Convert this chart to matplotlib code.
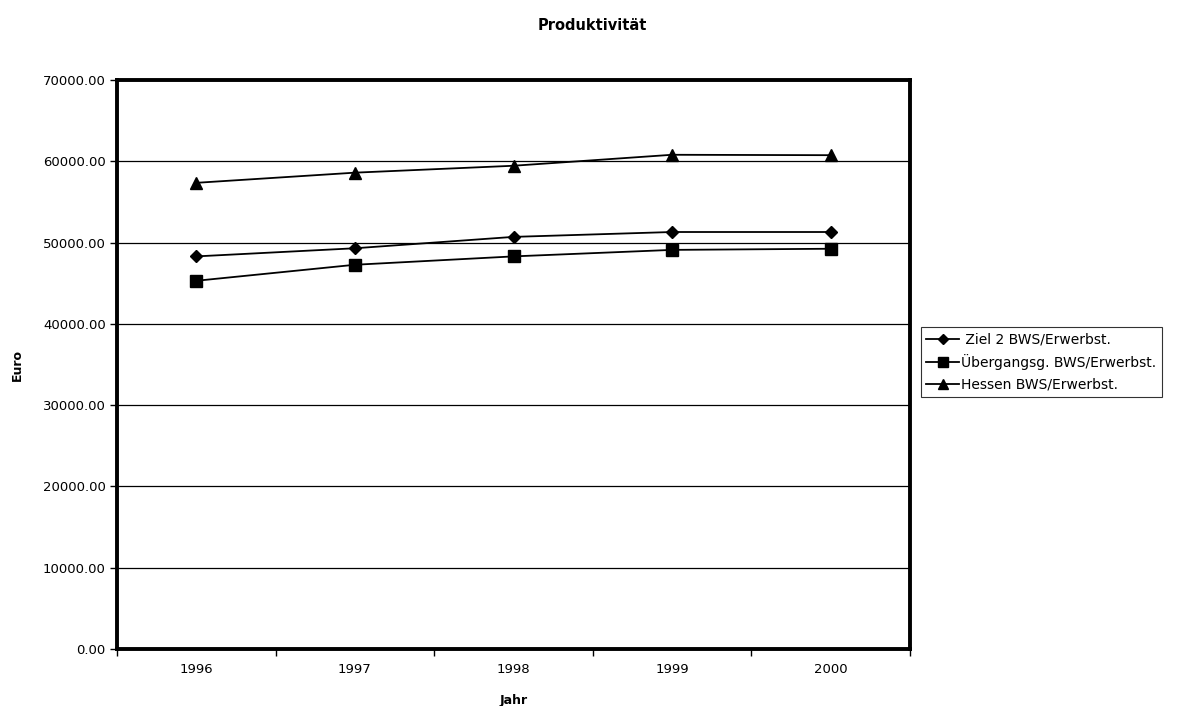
import matplotlib
matplotlib.use("Agg")
import matplotlib.pyplot as plt
from matplotlib.ticker import FuncFormatter

plt.rcParams['font.family'] = ['DejaVu Sans']

jahre = ['1996', '1997', '1998', '1999', '2000']
ziel2 = [48300, 49300, 50700, 51300, 51300]
uebergang = [45300, 47270, 48300, 49100, 49240]
hessen = [57350, 58600, 59450, 60800, 60750]

fig = plt.figure(figsize=(11.84, 7.06), dpi=100)
ax = fig.add_axes([0.0988, 0.0807, 0.6698, 0.806])

x = list(range(len(jahre)))
ax.plot(x, ziel2, color='black', lw=1.3, marker='D', ms=6.5, label=' Ziel 2 BWS/Erwerbst.')
ax.plot(x, uebergang, color='black', lw=1.3, marker='s', ms=9, label='Übergangsg. BWS/Erwerbst.')
ax.plot(x, hessen, color='black', lw=1.3, marker='^', ms=8.5, label='Hessen BWS/Erwerbst.')

ax.set_xlim(-0.5, 4.5)
ax.set_ylim(0, 70000)
ax.set_yticks(range(0, 70001, 10000))
ax.yaxis.set_major_formatter(FuncFormatter(lambda v, p: f'{v:.2f}'))
ax.grid(axis='y', color='black', lw=0.9)
ax.set_axisbelow(True)

# category labels centred, tick marks between categories
ax.set_xticks(x)
ax.set_xticklabels(jahre)
ax.set_xticks([i - 0.5 for i in range(len(jahre) + 1)], minor=True)
ax.tick_params(axis='x', which='major', length=0, pad=10, labelsize=9.5)
ax.tick_params(axis='x', which='minor', length=5, width=1, direction='out')
ax.tick_params(axis='y', length=5, width=1, direction='out', labelsize=9.5, pad=3)

for s in ax.spines.values():
    s.set_linewidth(2.8)
    s.set_color('black')

fig.text(0.5, 1 - 26 / 706, 'Produktivität', fontsize=10.5, fontweight='bold',
         ha='center', va='center')
ax.set_xlabel('Jahr', fontsize=9, fontweight='bold', labelpad=13)
ax.set_ylabel('Euro', fontsize=9, fontweight='bold', labelpad=14)

leg = fig.legend(loc='upper left', bbox_to_anchor=(0.7775, 0.537), fontsize=10,
                 frameon=True, fancybox=False, edgecolor='black', borderpad=0.4,
                 handlelength=2.4, handletextpad=0.1, labelspacing=0.55,
                 borderaxespad=0, markerscale=0.8)
leg.get_frame().set_linewidth(0.8)

fig.savefig('out.png', dpi=100)
